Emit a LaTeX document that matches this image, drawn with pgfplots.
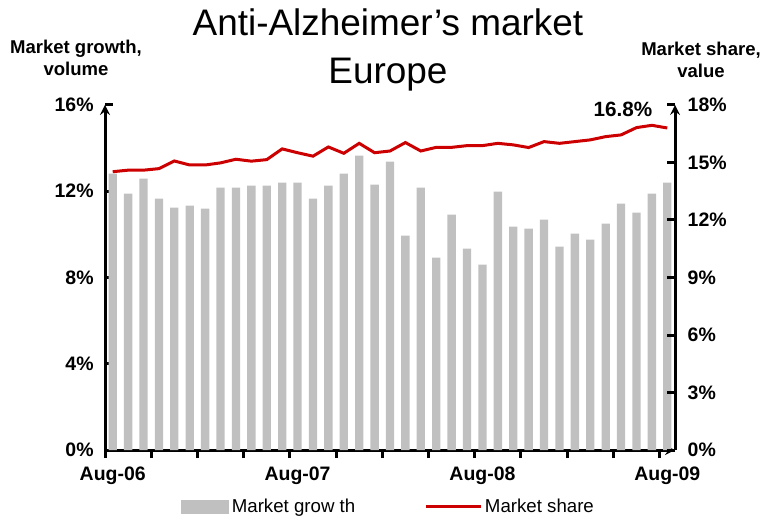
\documentclass[border=0pt]{standalone}
\usepackage{fontspec}
\setmainfont{Liberation Sans}
\usepackage{pgfplots}
\pgfplotsset{compat=1.18}
\definecolor{bargray}{RGB}{192,192,192}
\definecolor{sharered}{RGB}{204,0,0}

\pgfplotsset{
  chartbase/.style={
    at={(78.75pt,51pt)}, anchor=south west,
    scale only axis, width=427.5pt, height=258.75pt,
    xmin=-0.5, xmax=36.5, ymin=0, clip=false,
    axis line style={line width=2.25pt,-},
    every tick/.style={black,line width=2.25pt},
    major tick length=6pt,
    tick label style={font=\fontsize{14.6}{16}\selectfont\bfseries},
  }
}

\begin{document}
\begin{tikzpicture}
\useasboundingbox (0,0) rectangle (572.25pt,388.5pt);

% market growth, volume (left axis)
\begin{axis}[chartbase, ymax=16,
  axis x line=bottom, axis y line=left,
  ytick align=inside, xtick align=outside,
  ytick={0,4,8,12,16}, yticklabels={0\%,4\%,8\%,12\%,16\%},
  y tick label style={xshift=-5pt},
  xtick={-0.5,2.5,...,35.5}, xticklabels={},
  extra x ticks={0,12,24,36},
  extra x tick labels={Aug-06,Aug-07,Aug-08,Aug-09},
  extra x tick style={major tick length=0pt, tick label style={yshift=-9pt}},
  legend style={at={(0.498,-0.165)}, anchor=center, draw=none, fill=none,
    legend columns=2, font=\fontsize{14}{16}\selectfont,
    /tikz/every even column/.append style={column sep=50pt}},
  legend cell align=left]
\addplot[ybar, bar width=0.54, fill=bargray, draw=none,
  legend image code/.code={\fill[bargray] (0pt,-5pt) rectangle (36pt,5pt);}]
  coordinates {
  (0,12.82) (1,11.89) (2,12.58) (3,11.66) (4,11.24) (5,11.33) (6,11.19)
  (7,12.17) (8,12.17) (9,12.26) (10,12.26) (11,12.40) (12,12.40) (13,11.66)
  (14,12.26) (15,12.82) (16,13.65) (17,12.31) (18,13.37) (19,9.94) (20,12.17)
  (21,8.92) (22,10.92) (23,9.34) (24,8.60) (25,11.98) (26,10.36) (27,10.27)
  (28,10.68) (29,9.43) (30,10.03) (31,9.76) (32,10.50) (33,11.43) (34,11.01)
  (35,11.89) (36,12.40)};
\addlegendentry{Market grow th}
\addlegendimage{legend image code/.code={\draw[sharered,line width=2.25pt] (0pt,0pt) -- (41pt,0pt);}}
\addlegendentry{Market share}
\end{axis}

% market share, value (right axis)
\begin{axis}[chartbase, ymax=18,
  axis y line=right, axis x line=none, xtick=\empty,
  tick align=inside,
  ytick={0,3,6,9,12,15,18}, yticklabels={0\%,3\%,6\%,9\%,12\%,15\%,18\%},
  y tick label style={xshift=6pt}]
\addplot[sharered, line width=2.25pt, mark=none] coordinates {
  (0,14.52) (1,14.60) (2,14.60) (3,14.68) (4,15.08) (5,14.87) (6,14.87)
  (7,14.98) (8,15.17) (9,15.07) (10,15.15) (11,15.71) (12,15.51) (13,15.33)
  (14,15.81) (15,15.48) (16,16.00) (17,15.51) (18,15.60) (19,16.04) (20,15.60)
  (21,15.79) (22,15.79) (23,15.88) (24,15.88) (25,16.00) (26,15.92) (27,15.78)
  (28,16.09) (29,16.00) (30,16.09) (31,16.18) (32,16.35) (33,16.44) (34,16.82)
  (35,16.94) (36,16.80)};
\end{axis}

\begin{scope}[x=0.75pt,y=0.75pt]
\node[anchor=base, inner sep=0, font=\fontsize{27.7}{33}\selectfont] at (388,482) {Anti-Alzheimer’s market};
\node[anchor=base, inner sep=0, font=\fontsize{27.7}{33}\selectfont] at (388,434) {Europe};
\node[anchor=base, inner sep=0, font=\fontsize{13.9}{16}\selectfont\bfseries] at (76,464) {Market growth,};
\node[anchor=base, inner sep=0, font=\fontsize{13.9}{16}\selectfont\bfseries] at (76,442) {volume};
\node[anchor=base, inner sep=0, font=\fontsize{13.9}{16}\selectfont\bfseries] at (701,462) {Market share,};
\node[anchor=base, inner sep=0, font=\fontsize{13.9}{16}\selectfont\bfseries] at (701,440) {value};
\node[anchor=base, inner sep=0, font=\fontsize{15.5}{18}\selectfont\bfseries] at (623,401) {16.8\%};
\end{scope}
\end{tikzpicture}
\end{document}
